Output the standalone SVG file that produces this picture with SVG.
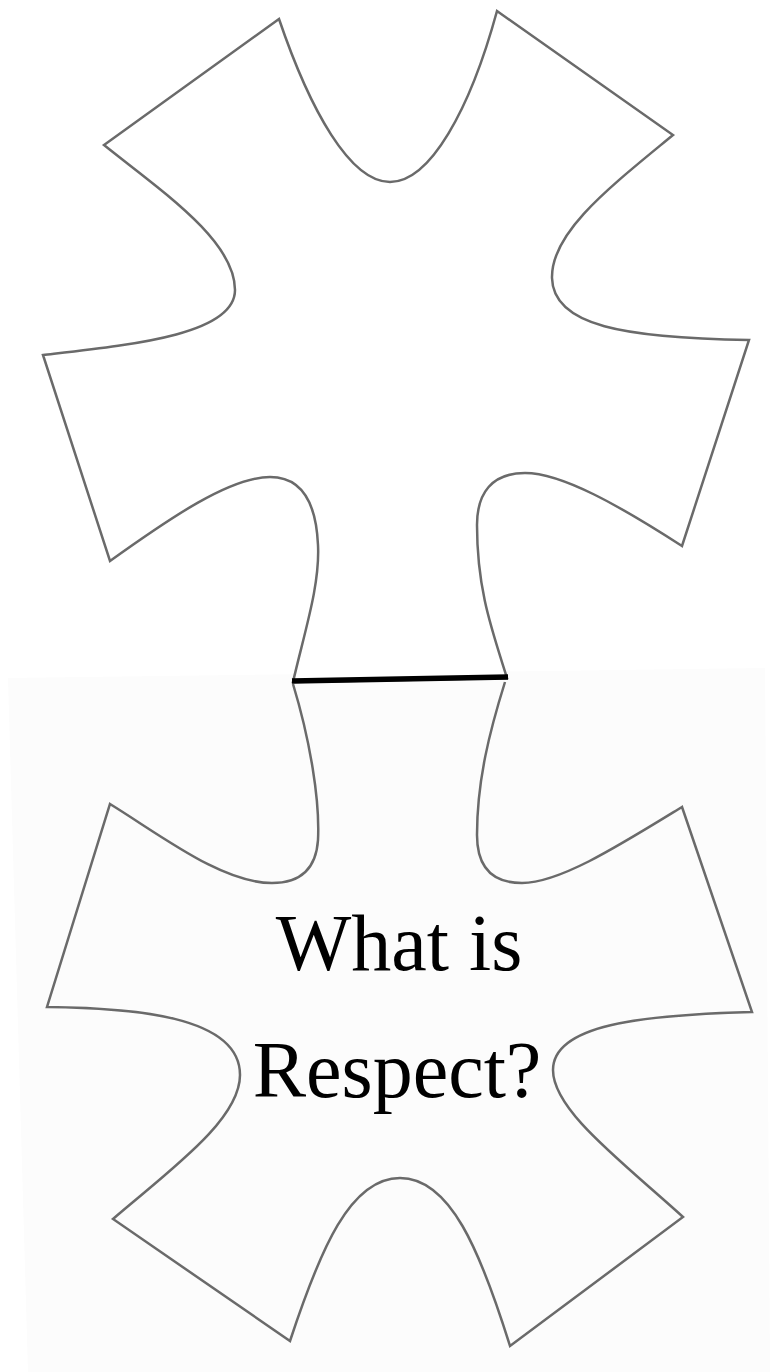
<svg xmlns="http://www.w3.org/2000/svg" width="779" height="1372" viewBox="0 0 779 1372">
<style>
.piece{fill:none;stroke:#6a6a6a;stroke-width:2.5;stroke-linejoin:miter}
.lbl{font-family:"Liberation Serif","Times New Roman",serif;font-size:80px;fill:#000;text-anchor:middle}
</style>
<rect x="0" y="0" width="779" height="1372" fill="#ffffff"/>
<polygon points="8,678 765,668 770,1372 28,1372" fill="#fcfcfc"/>
<g id="top-piece">
<path class="piece" style="fill:#ffffff" d="M 279,19 C 310,110 350,182 390,182 C 430,182 470,110 497,11 L 673,135 C 610,187 551,232 552,278 C 553,326 625,338 749,340 L 682,546 C 620,506 562,473 525,473 C 492,473 477,493 477,525 C 477,590 492,630 507,678 L 293,682 C 305,630 320,585 318,545 C 316,500 300,477 270,477 C 230,477 170,518 110,561 L 43,355 C 130,345 235,335 235,290 C 235,240 160,190 104,145 Z"/>
</g>
<g id="bottom-piece">
<path class="piece" d="M 293,684 C 310,740 320,800 318,840 C 316,870 300,883 272,883 C 222,883 162,836 110,804 L 47,1007 C 130,1008 240,1015 240,1075 C 240,1120 170,1170 113,1219 L 290,1341 C 320,1250 350,1178 400,1178 C 450,1178 480,1250 510,1346 L 683,1217 C 620,1160 553,1110 553,1070 C 553,1025 640,1015 752,1012 L 682,807 C 620,845 560,883 522,883 C 490,883 477,865 477,835 C 477,780 490,730 505,682"/>
<text class="lbl" x="399" y="970">What is</text>
<text class="lbl" x="397" y="1097">Respect?</text>
</g>
<g id="connectors">
<line x1="292" y1="681" x2="508" y2="677" stroke="#000" stroke-width="5.5"/>
</g>
</svg>
